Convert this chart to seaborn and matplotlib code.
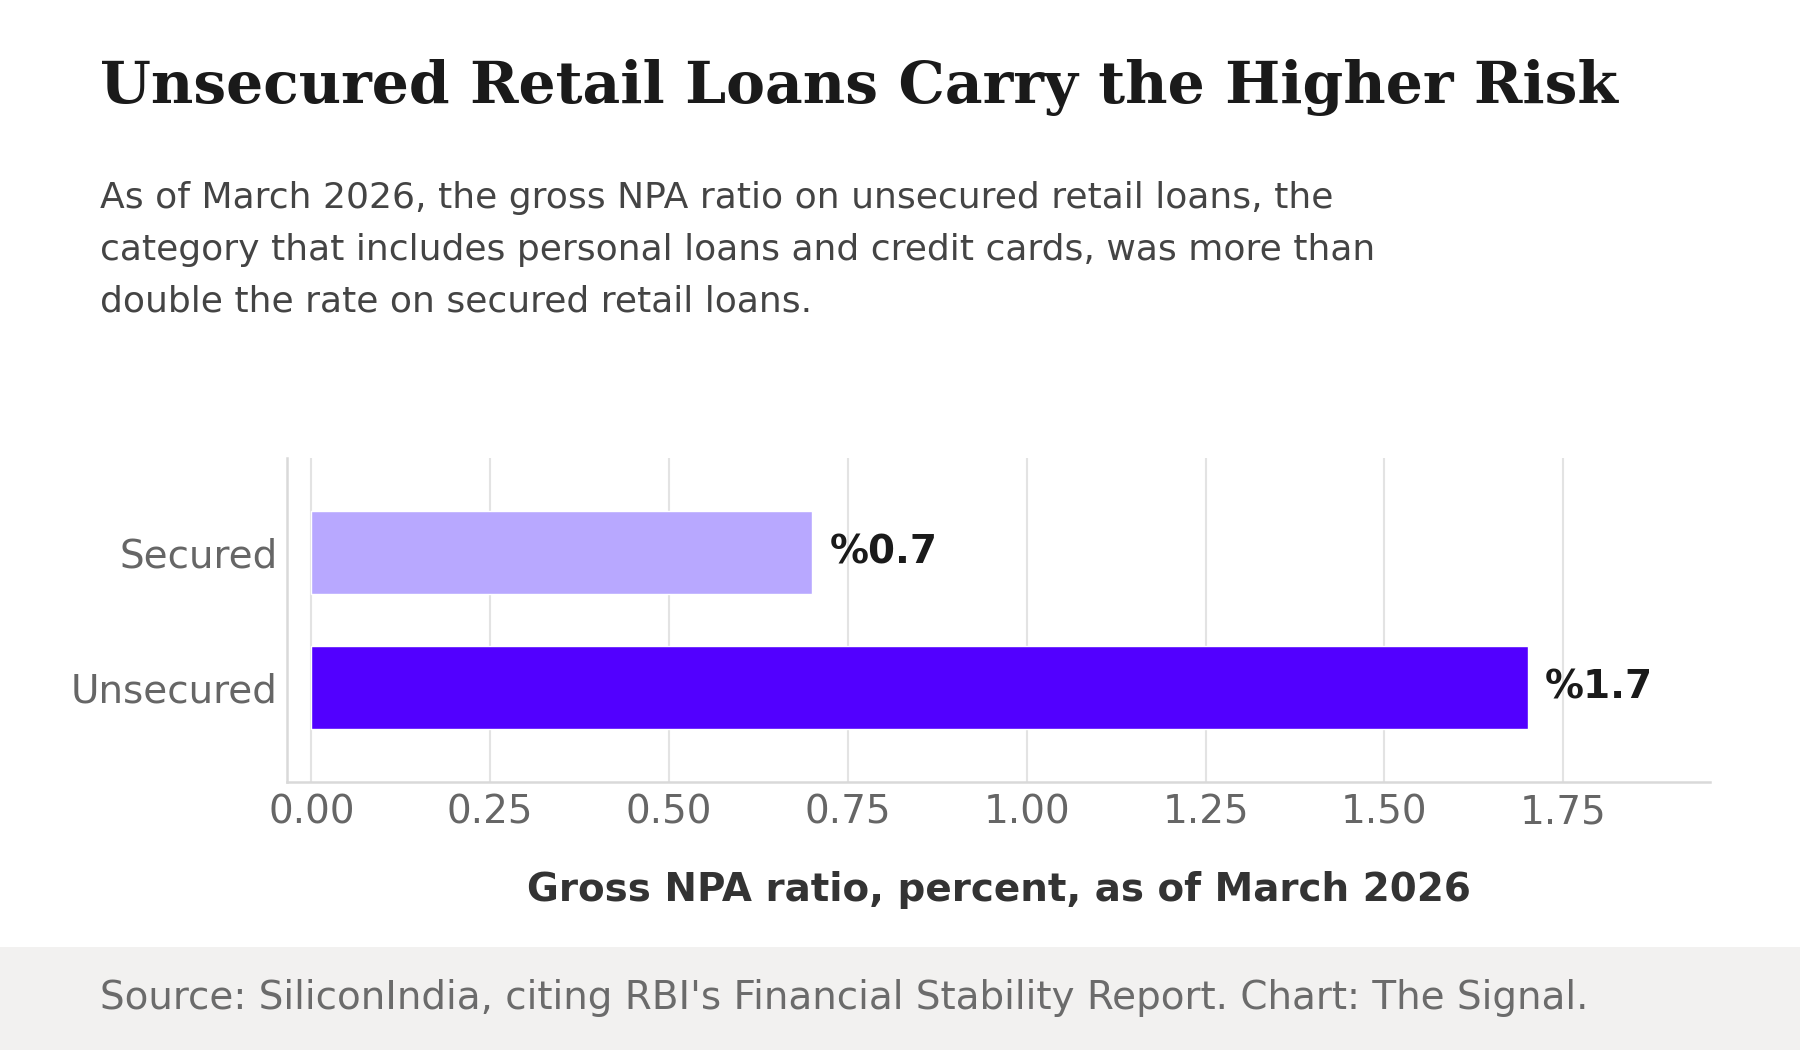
import seaborn as sns
import matplotlib.pyplot as plt
import pandas as pd

# datos
categorias = ['Secured', 'Unsecured']
npa_ratio = [0.7, 1.7]
colores = ['#B8A8FF', '#5200FF']

titulo = 'Unsecured Retail Loans Carry the Higher Risk'
subtitulo = ('As of March 2026, the gross NPA ratio on unsecured retail loans, the\n'
             'category that includes personal loans and credit cards, was more than\n'
             'double the rate on secured retail loans.')
eje_x = 'Gross NPA ratio, percent, as of March 2026'
fuente = "Source: SiliconIndia, citing RBI's Financial Stability Report. Chart: The Signal."

df = pd.DataFrame({'categoria': categorias, 'npa': npa_ratio})

sns.set_style('white')
plt.rcParams['font.family'] = ['DejaVu Sans']

fig = plt.figure(figsize=(18, 10.5), dpi=100)
ax = fig.add_axes([287 / 1800, 1 - 782 / 1050, (1710 - 287) / 1800, (782 - 458) / 1050])

sns.barplot(data=df, x='npa', y='categoria', hue='categoria', palette=colores,
            orient='h', width=0.61, saturation=1, legend=False, ax=ax, zorder=2)

ax.set_xlim(-0.034, 1.955)
ax.set_ylim(1.7, -0.7)
ax.set_xticks([0, 0.25, 0.5, 0.75, 1.0, 1.25, 1.5, 1.75])
ax.xaxis.grid(True, color='#e3e3e3', linewidth=1.5, zorder=0)
ax.set_axisbelow(True)

for s in ['top', 'right']:
    ax.spines[s].set_visible(False)
for s in ['left', 'bottom']:
    ax.spines[s].set_color('#d9d9d9')
    ax.spines[s].set_linewidth(1.8)

ax.tick_params(axis='both', length=0, labelsize=28, labelcolor='#666666')
ax.tick_params(axis='x', pad=8)
ax.tick_params(axis='y', pad=7)
ax.set_ylabel('')
ax.set_xlabel(eje_x, fontsize=28, fontweight='bold', color='#333333', labelpad=29)

for i, v in enumerate(npa_ratio):
    ax.text(v + 0.024, i, f'%{v}', va='center', ha='left', fontsize=28,
            fontweight='bold', color='#1a1a1a')

fig.text(100 / 1800, 1 - 88 / 1050, titulo, family='DejaVu Serif', fontweight='bold',
         fontsize=42, color='#1a1a1a', va='center', ha='left')
fig.text(100 / 1800, 1 - 250 / 1050, subtitulo, fontsize=26, color='#444444',
         va='center', ha='left', linespacing=1.66)

# franja de la fuente
fig.patches.append(plt.Rectangle((0, 0), 1, 1 - 947 / 1050, transform=fig.transFigure,
                                 facecolor='#f2f1f0', edgecolor='none', zorder=0))
fig.text(100 / 1800, 1 - 998 / 1050, fuente, fontsize=28, color='#6b6b6b',
         va='center', ha='left')

fig.savefig('out.png', dpi=100, facecolor='white')
